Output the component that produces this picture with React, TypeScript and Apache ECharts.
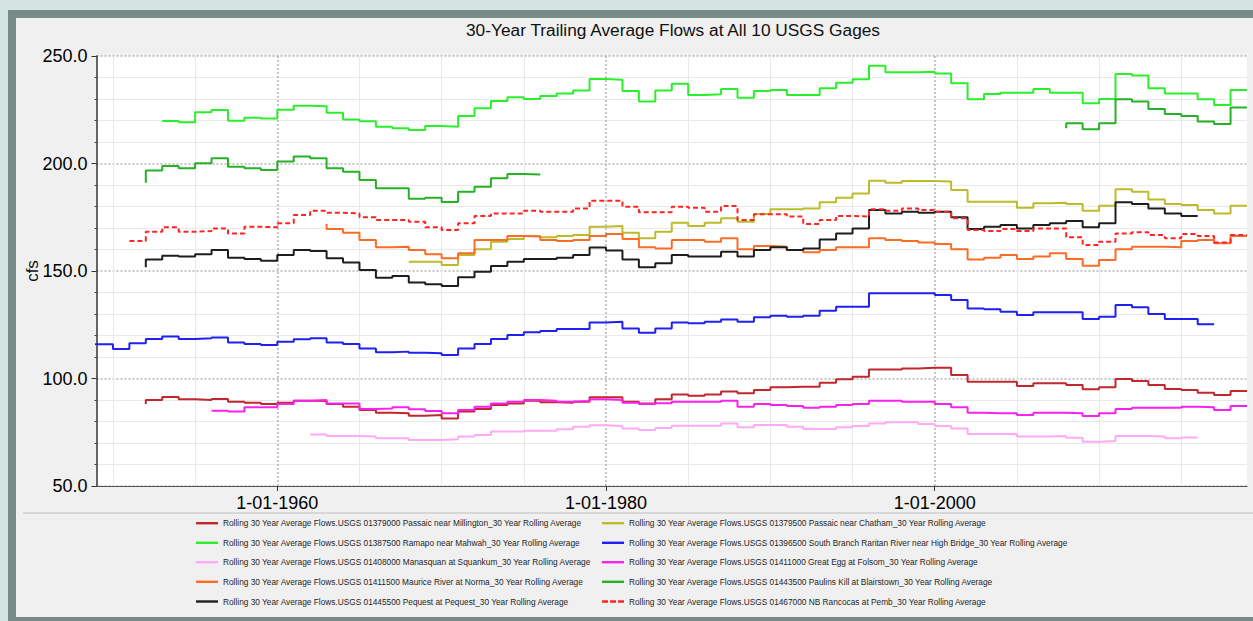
import React, { useEffect, useRef } from 'react';
import * as echarts from 'echarts';

const TITLE = '30-Year Trailing Average Flows at All 10 USGS Gages';
const Y_NAME = 'cfs';
const X_MIN = 1949;
const X_MAX = 2019;
const Y_MIN = 50;
const Y_MAX = 250;
const Y_STEP = 50;
const X_LABEL_YEARS = [1960, 1980, 2000];
const X_MINOR_YEARS = [1950, 1955, 1965, 1970, 1975, 1985, 1990, 1995, 2005, 2010, 2015];

const NAMES = [
  'Rolling 30 Year Average Flows.USGS 01379000 Passaic near Millington_30 Year Rolling Average',
  'Rolling 30 Year Average Flows.USGS 01379500 Passaic near Chatham_30 Year Rolling Average',
  'Rolling 30 Year Average Flows.USGS 01387500 Ramapo near Mahwah_30 Year Rolling Average',
  'Rolling 30 Year Average Flows.USGS 01396500 South Branch Raritan River near High Bridge_30 Year Rolling Average',
  'Rolling 30 Year Average Flows.USGS 01408000 Manasquan at Squankum_30 Year Rolling Average',
  'Rolling 30 Year Average Flows.USGS 01411000 Great Egg at Folsom_30 Year Rolling Average',
  'Rolling 30 Year Average Flows.USGS 01411500 Maurice River at Norma_30 Year Rolling Average',
  'Rolling 30 Year Average Flows.USGS 01443500 Paulins Kill at Blairstown_30 Year Rolling Average',
  'Rolling 30 Year Average Flows.USGS 01445500 Pequest at Pequest_30 Year Rolling Average',
  'Rolling 30 Year Average Flows.USGS 01467000 NB Rancocas at Pemb_30 Year Rolling Average',
];

// legend layout: two columns of five
const LEGEND_COL1 = [0, 2, 4, 6, 8];
const LEGEND_COL2 = [1, 3, 5, 7, 9];

// Each list: values at consecutive 1 January points, first point at the start year
const passaicMillingtonStart = 1952;
const passaicMillington = [88.1, 90.0, 91.4, 90.3, 90.0, 90.5, 89.2, 88.7, 88.1, 88.7, 89.7, 89.5, 88.1, 86.9, 85.3, 84.1, 83.8, 82.7, 83.0, 81.4, 84.6, 85.8, 87.7, 88.4, 89.7, 88.9, 88.7, 89.2, 91.3, 91.3, 89.2, 88.4, 90.3, 92.6, 92.0, 92.6, 93.9, 93.1, 94.7, 95.9, 96.2, 96.2, 98.0, 99.6, 100.8, 104.2, 104.2, 104.7, 105.0, 105.0, 101.6, 98.5, 98.5, 98.5, 96.5, 97.8, 97.8, 97.0, 95.0, 95.9, 99.8, 98.8, 97.0, 95.1, 94.7, 93.4, 92.3, 94.2];

const passaicChathamStart = 1968;
const passaicChatham = [154.3, 154.3, 154.3, 152.8, 157.4, 160.1, 163.6, 164.9, 166.3, 165.7, 166.3, 166.7, 170.6, 170.9, 167.8, 165.2, 168.3, 172.5, 170.9, 172.5, 174.5, 172.9, 176.5, 178.7, 178.7, 179.1, 182.0, 184.1, 186.1, 192.0, 191.1, 191.9, 191.9, 191.6, 187.7, 182.2, 182.2, 182.2, 179.4, 181.5, 181.8, 181.2, 178.0, 180.4, 188.0, 186.9, 183.3, 181.2, 180.7, 178.4, 176.8, 180.4];

const ramapoStart = 1953;
const ramapo = [219.8, 219.8, 219.2, 223.8, 224.9, 219.9, 221.3, 220.9, 225.0, 226.9, 226.6, 223.6, 220.5, 219.6, 217.1, 216.4, 215.6, 217.4, 217.1, 222.1, 225.7, 229.1, 230.8, 230.0, 231.4, 232.6, 233.9, 239.3, 239.0, 233.7, 228.8, 234.0, 237.1, 231.9, 232.2, 234.7, 230.6, 233.7, 234.2, 231.9, 231.9, 235.0, 237.6, 239.2, 245.5, 242.4, 242.4, 242.7, 241.9, 237.3, 229.9, 232.3, 232.9, 232.9, 234.7, 232.9, 232.9, 228.0, 230.0, 241.6, 240.9, 235.0, 232.6, 232.6, 229.9, 227.2, 234.2];

const southBranchStart = 1948;
const southBranch = [115.9, 115.9, 115.9, 113.7, 116.4, 118.4, 119.5, 118.4, 118.7, 119.1, 116.8, 116.0, 115.6, 117.1, 118.2, 118.7, 116.7, 116.0, 114.0, 112.2, 112.5, 112.0, 111.7, 110.9, 114.0, 116.0, 118.4, 120.2, 121.5, 122.1, 123.0, 123.0, 126.1, 126.4, 123.3, 121.3, 123.3, 126.1, 125.7, 126.4, 127.5, 126.4, 128.5, 129.2, 128.7, 129.2, 131.5, 133.4, 133.4, 139.6, 139.6, 139.6, 139.6, 138.8, 136.5, 132.6, 132.2, 131.1, 129.5, 130.8, 130.8, 130.8, 127.7, 128.7, 134.2, 133.1, 130.0, 127.7, 127.7, 125.2];

const manasquanStart = 1962;
const manasquan = [74.0, 74.0, 73.3, 73.3, 73.0, 72.2, 72.2, 71.4, 71.4, 71.7, 73.0, 73.7, 75.3, 75.3, 75.7, 75.7, 76.4, 77.6, 78.2, 77.9, 76.8, 76.0, 77.0, 78.0, 78.0, 78.0, 79.1, 77.3, 78.4, 78.4, 77.6, 76.5, 76.5, 77.3, 77.9, 79.1, 79.6, 79.6, 78.8, 77.9, 76.8, 74.2, 74.2, 74.2, 73.0, 73.0, 73.3, 72.5, 70.6, 70.9, 73.3, 73.3, 73.0, 72.2, 72.6];

const greatEggStart = 1956;
const greatEgg = [85.0, 85.0, 84.6, 86.6, 86.6, 88.1, 89.7, 90.0, 88.4, 88.4, 85.8, 86.1, 86.6, 85.7, 84.9, 83.8, 85.3, 86.9, 88.4, 89.2, 90.0, 89.7, 89.2, 89.5, 90.3, 90.0, 88.7, 88.1, 88.5, 89.2, 89.2, 89.2, 89.7, 86.9, 88.1, 87.7, 87.2, 86.4, 86.9, 87.7, 88.1, 89.7, 89.7, 89.2, 89.2, 88.1, 86.6, 84.1, 83.8, 83.8, 83.0, 84.1, 84.1, 83.8, 82.6, 83.8, 85.8, 86.4, 86.4, 86.4, 86.9, 86.6, 85.3, 87.2];

const mauriceStart = 1963;
const maurice = [171.9, 169.5, 167.8, 164.4, 161.0, 161.3, 159.8, 157.8, 155.9, 158.2, 164.4, 164.4, 166.3, 166.0, 164.4, 164.0, 164.4, 166.3, 167.2, 164.9, 161.0, 160.5, 164.4, 164.4, 163.6, 165.2, 160.1, 161.6, 161.3, 159.8, 158.7, 159.8, 161.0, 161.0, 165.2, 164.4, 164.0, 163.2, 162.6, 160.1, 155.4, 156.2, 157.4, 155.6, 156.7, 158.2, 155.6, 152.5, 155.1, 160.1, 161.3, 161.3, 161.0, 164.0, 164.4, 162.9, 166.3];

const paulinsKillEarlyStart = 1952;
const paulinsKillEarly = [191.1, 196.7, 198.8, 197.8, 200.1, 202.4, 198.5, 197.8, 197.0, 200.9, 203.2, 202.4, 197.8, 196.2, 192.3, 188.5, 188.5, 183.6, 184.1, 182.1, 186.9, 189.2, 193.1, 195.1, 194.9];
const paulinsKillLateStart = 2008;
const paulinsKillLate = [216.4, 218.7, 215.9, 218.7, 229.9, 228.8, 225.3, 223.0, 222.1, 219.5, 218.4, 226.1];

const pequestStart = 1952;
const pequest = [151.7, 155.4, 157.1, 156.7, 157.8, 159.8, 156.2, 155.6, 154.8, 157.4, 159.8, 159.3, 155.9, 154.0, 150.5, 146.9, 147.7, 144.6, 143.8, 143.0, 147.1, 149.7, 152.3, 154.3, 155.6, 155.6, 156.2, 157.4, 160.9, 159.5, 155.4, 151.7, 153.6, 157.4, 156.7, 156.7, 159.0, 156.7, 159.8, 161.0, 159.8, 160.5, 164.7, 167.5, 169.8, 178.4, 176.8, 177.6, 177.1, 177.6, 175.0, 169.5, 170.6, 171.4, 169.8, 171.4, 172.2, 173.3, 170.3, 172.2, 182.0, 181.2, 179.1, 176.8, 175.6];

const rancocasStart = 1951;
const rancocas = [164.0, 164.0, 168.3, 170.3, 168.3, 168.6, 169.8, 167.5, 170.6, 170.3, 172.2, 176.0, 178.0, 177.1, 176.8, 175.0, 173.7, 173.7, 172.9, 170.3, 169.1, 172.2, 175.6, 176.8, 176.8, 178.0, 177.6, 177.6, 179.1, 182.7, 182.7, 179.9, 177.3, 177.3, 179.9, 179.4, 177.6, 180.2, 173.7, 176.4, 176.4, 175.3, 171.9, 173.7, 175.6, 175.3, 178.7, 178.0, 179.1, 178.4, 177.6, 174.5, 169.1, 168.6, 169.5, 168.6, 169.8, 169.8, 165.7, 162.1, 163.6, 167.5, 168.0, 166.7, 165.2, 167.2, 166.3, 163.2, 166.7];

const COLORS = ['#c1272d', '#bcbb2a', '#2cef2c', '#2020f2', '#ffaaf6', '#f822ee', '#fb6c26', '#27b127', '#1e1e1e', '#ff2424'];
const DASHED = [false, false, false, false, false, false, false, false, false, true];

const FONT = 'Liberation Sans, Arial, sans-serif';
const DASH_ICON = 'path://M0,0h6v2h-6z M8,0h6v2h-6z M16,0h6v2h-6z';

function pts(start: number, values: number[]) {
  return values.map((v, i) => [start + i, v]);
}

function lineSeries(name: string, color: string, data: number[][], dashed = false, extra: any = {}) {
  return {
    type: 'line',
    name,
    data,
    step: 'start',
    symbol: 'none',
    showSymbol: false,
    clip: true,
    color,
    itemStyle: { color },
    lineStyle: { color, width: 2, type: dashed ? [5, 3] : 'solid' },
    emphasis: { disabled: true },
    z: 3,
    ...extra,
  };
}

export default function App() {
  const ref = useRef<HTMLDivElement>(null);
  useEffect(() => {
    const chart = echarts.init(ref.current!, undefined, { renderer: 'svg', width: 1253, height: 621 });
    const gridMarks = {
      silent: true,
      symbol: ['none', 'none'],
      label: { show: false },
      z: 1,
      animation: false,
      data: [
        ...X_MINOR_YEARS.map((y) => ({ xAxis: y, lineStyle: { color: '#e9e9e9', type: 'solid', width: 1 } })),
        ...X_LABEL_YEARS.map((y) => ({ xAxis: y, lineStyle: { color: '#b4b4b4', type: [2, 2], width: 1.5 } })),
      ],
    };
    const series: any[] = [
      lineSeries(NAMES[0], COLORS[0], pts(passaicMillingtonStart, passaicMillington), DASHED[0], { markLine: gridMarks }),
      lineSeries(NAMES[1], COLORS[1], pts(passaicChathamStart, passaicChatham), DASHED[1]),
      lineSeries(NAMES[2], COLORS[2], pts(ramapoStart, ramapo), DASHED[2]),
      lineSeries(NAMES[3], COLORS[3], pts(southBranchStart, southBranch), DASHED[3]),
      lineSeries(NAMES[4], COLORS[4], pts(manasquanStart, manasquan), DASHED[4]),
      lineSeries(NAMES[5], COLORS[5], pts(greatEggStart, greatEgg), DASHED[5]),
      lineSeries(NAMES[6], COLORS[6], pts(mauriceStart, maurice), DASHED[6]),
      lineSeries(NAMES[7], COLORS[7], pts(paulinsKillEarlyStart, paulinsKillEarly), DASHED[7]),
      lineSeries(NAMES[7], COLORS[7], pts(paulinsKillLateStart, paulinsKillLate), DASHED[7]),
      lineSeries(NAMES[8], COLORS[8], pts(pequestStart, pequest), DASHED[8]),
      lineSeries(NAMES[9], COLORS[9], pts(rancocasStart, rancocas), DASHED[9]),
    ];
    const rowCenters = [522.7, 542.3, 561.7, 581.3, 601.0];
    const legendItem = (idx: number, left: number, row: number) => ({
      orient: 'horizontal',
      left,
      top: rowCenters[row] - 3.5,
      padding: 0,
      itemWidth: 22,
      itemHeight: 2.4,
      symbolKeepAspect: false,
      selectedMode: false,
      icon: DASHED[idx] ? DASH_ICON : 'rect',
      data: [NAMES[idx]],
      textStyle: { fontSize: 8.3, color: '#1e1e1e', fontFamily: FONT },
    });
    const legends = [
      ...LEGEND_COL1.map((idx, row) => legendItem(idx, 196, row)),
      ...LEGEND_COL2.map((idx, row) => legendItem(idx, 602, row)),
    ];
    chart.setOption({
      animation: false,
      backgroundColor: '#d4e4e3',
      textStyle: { fontFamily: FONT },
      graphic: [
        { type: 'rect', shape: { x: 8, y: 10, width: 1245, height: 611 }, style: { fill: '#798b88' }, z: -10, silent: true },
        { type: 'rect', shape: { x: 16, y: 18, width: 1237, height: 599 }, style: { fill: '#f0f0f0' }, z: -9, silent: true },
        { type: 'line', shape: { x1: 23, y1: 513, x2: 1253, y2: 513 }, style: { stroke: '#cfcfcf', lineWidth: 1.5 }, z: -8, silent: true },
      ],
      title: {
        text: TITLE,
        left: 466,
        top: 21,
        padding: 0,
        textStyle: { fontSize: 17.3, fontWeight: 'normal', color: '#111', fontFamily: FONT },
      },
      legend: legends,
      grid: {
        left: 96.5,
        top: 56,
        right: 6,
        bottom: 135,
        show: true,
        backgroundColor: '#ffffff',
        borderWidth: 0,
        containLabel: false,
        outerBoundsMode: 'none',
      },
      xAxis: {
        type: 'value',
        min: X_MIN,
        max: X_MAX,
        axisLine: { show: true, lineStyle: { color: '#555', width: 1 } },
        axisTick: { show: true, customValues: X_LABEL_YEARS, length: 5, lineStyle: { color: '#333' } },
        axisLabel: {
          customValues: X_LABEL_YEARS,
          formatter: (v: number) => '1-01-' + Math.round(v),
          fontSize: 18,
          color: '#000',
          margin: 8,
          fontFamily: FONT,
        },
        splitLine: { show: false },
      },
      yAxis: {
        type: 'value',
        min: Y_MIN,
        max: Y_MAX,
        interval: Y_STEP,
        name: Y_NAME,
        nameLocation: 'middle',
        nameGap: 56,
        nameRotate: 90,
        nameMoveOverlap: false,
        nameTextStyle: { fontSize: 17, color: '#111', fontFamily: FONT },
        axisLine: { show: true, lineStyle: { color: '#333', width: 1.5 } },
        axisTick: { show: true, length: 5, lineStyle: { color: '#333' } },
        minorTick: { show: true, splitNumber: 5, length: 2, lineStyle: { color: '#444' } },
        axisLabel: {
          formatter: (v: number) => v.toFixed(1),
          fontSize: 18,
          color: '#000',
          margin: 9,
          fontFamily: FONT,
        },
        splitLine: { show: true, lineStyle: { color: '#b4b4b4', type: [2, 2], width: 1.5 } },
        minorSplitLine: { show: true, lineStyle: { color: '#e9e9e9', width: 1 } },
      },
      series,
    });
    return () => chart.dispose();
  }, []);
  return <div ref={ref} style={{ position: 'absolute', left: 0, top: 0, width: 1253, height: 621 }} />;
}
